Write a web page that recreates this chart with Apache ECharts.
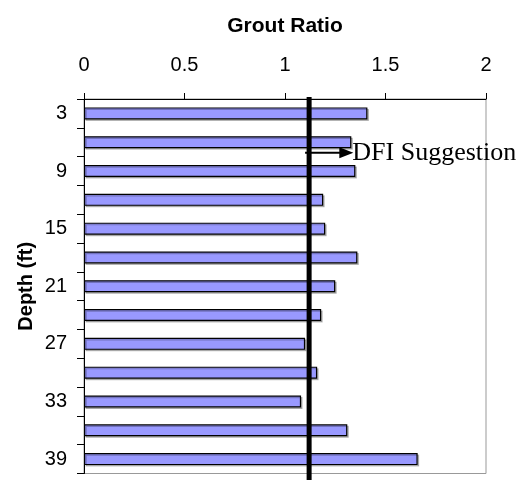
<!DOCTYPE html>
<html>
<head>
<meta charset="utf-8">
<script src="https://cdn.jsdelivr.net/npm/echarts@6/dist/echarts.min.js"></script>
<style>
html,body{margin:0;padding:0;background:#fff;}
#chart{width:525px;height:480px;}
</style>
</head>
<body>
<div id="chart"></div>
<script>
// ---- data ----
const depths = ['3','6','9','12','15','18','21','24','27','30','33','36','39'];
const groutRatio = [1.41, 1.33, 1.35, 1.19, 1.20, 1.36, 1.25, 1.18, 1.10, 1.16, 1.08, 1.31, 1.66];
const xTicks = [0, 0.5, 1, 1.5, 2];
const dfiSuggestion = 1.12;
const arrowFromTo = [1.10, 1.34];
const arrowDepthIndex = 1;
const annotationText = 'DFI Suggestion';

const chart = echarts.init(document.getElementById('chart'), null, {renderer: 'canvas'});
const sans = '"Liberation Sans", Arial, sans-serif';

chart.setOption({
  animation: false,
  backgroundColor: '#fff',
  grid: {
    left: 84, right: 39, top: 99, bottom: 6.5,
    show: true, borderColor: '#999', borderWidth: 1, backgroundColor: 'transparent'
  },
  xAxis: {
    type: 'value',
    position: 'top',
    min: xTicks[0], max: xTicks[xTicks.length - 1], interval: 0.5,
    name: 'Grout Ratio',
    nameLocation: 'middle',
    nameGap: 62,
    nameMoveOverlap: false,
    nameTextStyle: {fontFamily: sans, fontWeight: 'bold', fontSize: 21, color: '#000'},
    splitLine: {show: false},
    axisLine: {show: true, lineStyle: {color: '#000', width: 1}},
    axisTick: {show: true, length: 6, lineStyle: {color: '#000'}},
    axisLabel: {fontFamily: sans, fontSize: 20, color: '#000', margin: 24}
  },
  yAxis: {
    type: 'category',
    data: depths,
    inverse: true,
    name: 'Depth (ft)',
    nameLocation: 'middle',
    nameGap: 48,
    nameMoveOverlap: false,
    nameTextStyle: {fontFamily: sans, fontWeight: 'bold', fontSize: 20, color: '#000'},
    axisLine: {show: true, lineStyle: {color: '#000', width: 1}},
    axisTick: {show: true, length: 7, interval: 0, lineStyle: {color: '#000'}},
    axisLabel: {fontFamily: sans, fontSize: 20, color: '#000', margin: 17, interval: 1},
    splitLine: {show: false}
  },
  series: [
    {
      type: 'bar',
      data: groutRatio,
      barWidth: 12,
      itemStyle: {
        color: '#9999ff', borderColor: '#000', borderWidth: 1.2,
        shadowColor: 'rgba(0,0,0,0.25)', shadowOffsetX: 1.5, shadowOffsetY: 1.5, shadowBlur: 0
      },
      z: 2
    },
    {
      type: 'custom',
      clip: false,
      z: 5,
      encode: {x: 0, y: 1},
      data: [[dfiSuggestion, 0]],
      renderItem: function (params, api) {
        const p = api.coord([api.value(0), 0]);
        const cs = params.coordSys;
        return {
          type: 'line',
          shape: {x1: p[0], y1: cs.y - 2, x2: p[0], y2: api.getHeight()},
          style: {stroke: '#000', lineWidth: 5}
        };
      }
    },
    {
      type: 'custom',
      clip: false,
      z: 6,
      encode: {x: [0, 1], y: 2},
      data: [[arrowFromTo[0], arrowFromTo[1], arrowDepthIndex]],
      renderItem: function (params, api) {
        const a = api.coord([api.value(0), api.value(2)]);
        const b = api.coord([api.value(1), api.value(2)]);
        const band = api.size([0, 1])[1];
        const y = a[1] + band * 0.37;
        const headLen = 14, headHalf = 5.5;
        return {
          type: 'group',
          children: [
            {type: 'line', shape: {x1: a[0], y1: y, x2: b[0] - headLen + 1, y2: y},
             style: {stroke: '#000', lineWidth: 2}},
            {type: 'polygon', shape: {points: [[b[0] - headLen, y - headHalf], [b[0], y], [b[0] - headLen, y + headHalf]]},
             style: {fill: '#000'}},
            {type: 'text', style: {text: annotationText, x: b[0] - 1, y: y,
              font: '26px "Liberation Serif", "Times New Roman", serif', fill: '#000',
              align: 'left', verticalAlign: 'middle', textAlign: 'left', textVerticalAlign: 'middle'}}
          ]
        };
      }
    }
  ]
});
</script>
</body>
</html>
